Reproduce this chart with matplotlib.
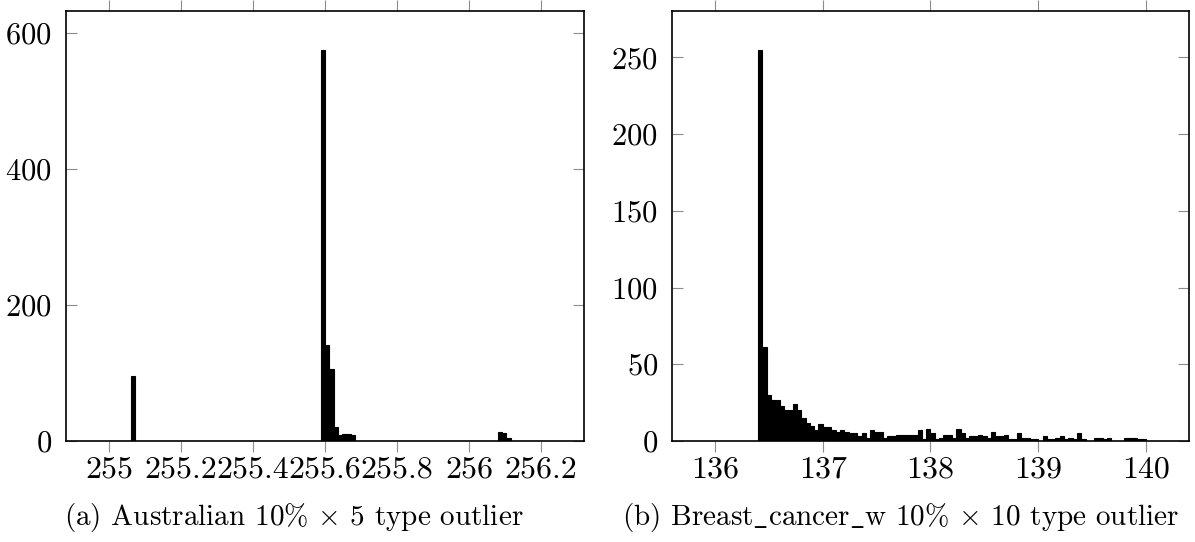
import numpy as np
import matplotlib
matplotlib.use("Agg")
import matplotlib.pyplot as plt

plt.rcParams['font.family'] = ['cmr10', 'DejaVu Serif']
plt.rcParams['mathtext.fontset'] = 'cm'
plt.rcParams['axes.formatter.use_mathtext'] = True

# (a) Australian: histogram over [255.0, 256.2] with 100 bins, non-empty bins only
left_range = (255.0, 256.2)
left_nbins = 100
left_bin_idx = [5, 49, 50, 51, 52, 53, 54, 55, 56, 90, 91, 92]
left_counts = [95, 575, 141, 106, 20, 9, 11, 11, 9, 13, 12, 5]
left_xticks = [255, 255.2, 255.4, 255.6, 255.8, 256, 256.2]
left_xticklabels = ['255', '255.2', '255.4', '255.6', '255.8', '256', '256.2']
left_yticks = [0, 200, 400, 600]

# (b) Breast_cancer_w: histogram over [136, 140] with 100 bins, counts from bin 10 on
right_range = (136.0, 140.0)
right_nbins = 100
right_first_bin = 10
right_counts = [255, 61, 30, 27, 27, 23, 20, 20, 24, 20,
                15, 12, 10, 7, 11, 9, 9, 7, 6, 7,
                6, 5, 5, 3, 5, 2, 7, 6, 6, 2,
                3, 3, 4, 4, 4, 4, 4, 7, 1, 8,
                5, 1, 2, 4, 4, 2, 8, 5, 2, 3,
                3, 4, 3, 2, 6, 3, 3, 4, 1, 1,
                5, 2, 2, 1, 1, 0, 3, 1, 1, 2,
                3, 1, 2, 1, 5, 1, 0, 0, 2, 2,
                1, 2, 0, 0, 0, 2, 2, 2, 1, 1]
right_xticks = [136, 137, 138, 139, 140]
right_yticks = [0, 50, 100, 150, 200, 250]

captions = [r'(a) Australian 10% $\times$ 5 type outlier',
            r'(b) Breast$\_$cancer$\_$w 10% $\times$ 10 type outlier']


def hist_panel(ax, rng, nbins, counts_full, xticks, xticklabels, yticks):
    edges = np.linspace(rng[0], rng[1], nbins + 1)
    w = edges[1] - edges[0]
    ax.bar(edges[:-1], counts_full, width=w, align='edge',
           color='black', edgecolor='black', linewidth=0.8)
    span = rng[1] - rng[0]
    ax.set_xlim(rng[0] - 0.1 * span, rng[1] + 0.1 * span)
    ax.set_ylim(0, 1.1 * max(counts_full))
    ax.set_xticks(xticks)
    ax.set_xticklabels(xticklabels)
    ax.set_yticks(yticks)
    ax.tick_params(axis='x', direction='out', top=True, bottom=True,
                   length=8, width=0.8, color='#8c8c8c', labelsize=23, pad=3)
    ax.tick_params(axis='y', direction='in', left=True, right=True,
                   length=8, width=0.8, color='#8c8c8c', labelsize=22, pad=10)
    for s in ax.spines.values():
        s.set_linewidth(1.2)
        s.set_color('black')


fig = plt.figure(figsize=(11.95, 5.42), dpi=100)
ax1 = fig.add_axes([66 / 1195, 1 - 441 / 542, (584 - 66) / 1195, (441 - 10.5) / 542])
ax2 = fig.add_axes([672 / 1195, 1 - 441 / 542, (1189 - 672) / 1195, (441 - 10.5) / 542])

left_full = np.zeros(left_nbins)
left_full[left_bin_idx] = left_counts
hist_panel(ax1, left_range, left_nbins, left_full, left_xticks, left_xticklabels, left_yticks)

right_full = np.zeros(right_nbins)
right_full[right_first_bin:right_first_bin + len(right_counts)] = right_counts
hist_panel(ax2, right_range, right_nbins, right_full, right_xticks,
           [str(t) for t in right_xticks], right_yticks)

fig.text(294 / 1195, 1 - 517 / 542, captions[0], ha='center', va='center', fontsize=21)
fig.text(901 / 1195, 1 - 517 / 542, captions[1], ha='center', va='center', fontsize=21)

fig.savefig('out.png', dpi=100)
